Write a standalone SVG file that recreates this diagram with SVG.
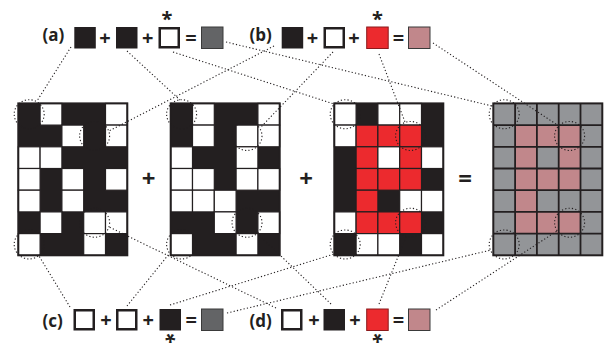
<svg xmlns="http://www.w3.org/2000/svg" width="604" height="350" viewBox="0 0 604 350">
<defs>
<style>
.bk{fill:#231f20}
.wh{fill:#fff;stroke:#231f20;stroke-width:1.2}
.rd{fill:#ec2a2e;stroke:#231f20;stroke-width:1.2}
.pk{fill:#c1878b}
.gy{fill:#939598}
.frame{fill:none;stroke:#231f20;stroke-width:2}
.gl{fill:none;stroke:#231f20;stroke-width:1.8}
.sw{fill:#fff;stroke:#231f20;stroke-width:2.5}
.sb{fill:#231f20}
.sg{fill:#636466;stroke:#3a3a3a;stroke-width:1}
.sr{fill:#ec2a2e;stroke:#8b1a1c;stroke-width:1}
.sp{fill:#c1878b;stroke:#3a3a3a;stroke-width:1}
.lab{font-family:"Open Sans","Liberation Sans",sans-serif;font-weight:700;font-size:17px;fill:#231f20}
.op{font-family:"Open Sans","Liberation Sans",sans-serif;font-weight:700;font-size:20px;fill:#231f20;text-anchor:middle}
.big{font-family:"Open Sans","Liberation Sans",sans-serif;font-weight:700;font-size:24px;fill:#231f20;text-anchor:middle}
.ast{font-family:"Open Sans","Liberation Sans",sans-serif;font-weight:700;font-size:20px;fill:#231f20;text-anchor:middle}
.dot{fill:none;stroke:#231f20;stroke-width:1.1;stroke-dasharray:1.2 2.2}
</style>
</defs>

<!-- Grid 1 -->
<g id="grid1" transform="translate(18.3,103.4)">
<rect class="bk" x="0" y="0" width="109" height="151.9"/>
<rect class="wh" x="21.8" y="0" width="21.8" height="21.7"/>
<rect class="wh" x="87.2" y="0" width="21.8" height="21.7"/>
<rect class="wh" x="43.6" y="21.7" width="21.8" height="21.7"/>
<rect class="wh" x="87.2" y="21.7" width="21.8" height="21.7"/>
<rect class="wh" x="0" y="43.4" width="21.8" height="21.7"/>
<rect class="wh" x="21.8" y="43.4" width="21.8" height="21.7"/>
<rect class="wh" x="0" y="65.1" width="21.8" height="21.7"/>
<rect class="wh" x="43.6" y="65.1" width="21.8" height="21.7"/>
<rect class="wh" x="87.2" y="65.1" width="21.8" height="21.7"/>
<rect class="wh" x="0" y="86.8" width="21.8" height="21.7"/>
<rect class="wh" x="43.6" y="86.8" width="21.8" height="21.7"/>
<rect class="wh" x="21.8" y="108.5" width="21.8" height="21.7"/>
<rect class="wh" x="65.4" y="108.5" width="21.8" height="21.7"/>
<rect class="wh" x="87.2" y="108.5" width="21.8" height="21.7"/>
<rect class="wh" x="0" y="130.2" width="21.8" height="21.7"/>
<rect class="wh" x="65.4" y="130.2" width="21.8" height="21.7"/>
<rect class="frame" x="0" y="0" width="109" height="151.9"/>
</g>

<!-- Grid 2 -->
<g id="grid2" transform="translate(170.7,103.4)">
<rect class="bk" x="0" y="0" width="109" height="151.9"/>
<rect class="wh" x="21.8" y="0" width="21.8" height="21.7"/>
<rect class="wh" x="87.2" y="0" width="21.8" height="21.7"/>
<rect class="wh" x="21.8" y="21.7" width="21.8" height="21.7"/>
<rect class="wh" x="65.4" y="21.7" width="21.8" height="21.7"/>
<rect class="wh" x="87.2" y="21.7" width="21.8" height="21.7"/>
<rect class="wh" x="0" y="43.4" width="21.8" height="21.7"/>
<rect class="wh" x="65.4" y="43.4" width="21.8" height="21.7"/>
<rect class="wh" x="0" y="65.1" width="21.8" height="21.7"/>
<rect class="wh" x="21.8" y="65.1" width="21.8" height="21.7"/>
<rect class="wh" x="65.4" y="65.1" width="21.8" height="21.7"/>
<rect class="wh" x="87.2" y="65.1" width="21.8" height="21.7"/>
<rect class="wh" x="0" y="86.8" width="21.8" height="21.7"/>
<rect class="wh" x="21.8" y="86.8" width="21.8" height="21.7"/>
<rect class="wh" x="43.6" y="86.8" width="21.8" height="21.7"/>
<rect class="wh" x="43.6" y="108.5" width="21.8" height="21.7"/>
<rect class="wh" x="87.2" y="108.5" width="21.8" height="21.7"/>
<rect class="wh" x="0" y="130.2" width="21.8" height="21.7"/>
<rect class="wh" x="65.4" y="130.2" width="21.8" height="21.7"/>
<rect class="frame" x="0" y="0" width="109" height="151.9"/>
</g>

<!-- Grid 3 -->
<g id="grid3" transform="translate(334.3,103.4)">
<rect class="bk" x="0" y="0" width="109" height="151.9"/>
<rect class="wh" x="0" y="0" width="21.8" height="21.7"/>
<rect class="wh" x="43.6" y="0" width="21.8" height="21.7"/>
<rect class="wh" x="65.4" y="0" width="21.8" height="21.7"/>
<rect class="wh" x="0" y="21.7" width="21.8" height="21.7"/>
<rect class="rd" x="21.8" y="21.7" width="21.8" height="21.7"/>
<rect class="rd" x="43.6" y="21.7" width="21.8" height="21.7"/>
<rect class="rd" x="65.4" y="21.7" width="21.8" height="21.7"/>
<rect class="rd" x="21.8" y="43.4" width="21.8" height="21.7"/>
<rect class="wh" x="43.6" y="43.4" width="21.8" height="21.7"/>
<rect class="rd" x="65.4" y="43.4" width="21.8" height="21.7"/>
<rect class="wh" x="87.2" y="43.4" width="21.8" height="21.7"/>
<rect class="rd" x="21.8" y="65.1" width="21.8" height="21.7"/>
<rect class="rd" x="43.6" y="65.1" width="21.8" height="21.7"/>
<rect class="rd" x="65.4" y="65.1" width="21.8" height="21.7"/>
<rect class="rd" x="21.8" y="86.8" width="21.8" height="21.7"/>
<rect class="wh" x="65.4" y="86.8" width="21.8" height="21.7"/>
<rect class="wh" x="87.2" y="86.8" width="21.8" height="21.7"/>
<rect class="wh" x="0" y="108.5" width="21.8" height="21.7"/>
<rect class="rd" x="21.8" y="108.5" width="21.8" height="21.7"/>
<rect class="rd" x="43.6" y="108.5" width="21.8" height="21.7"/>
<rect class="rd" x="65.4" y="108.5" width="21.8" height="21.7"/>
<rect class="wh" x="21.8" y="130.2" width="21.8" height="21.7"/>
<rect class="wh" x="43.6" y="130.2" width="21.8" height="21.7"/>
<rect class="wh" x="87.2" y="130.2" width="21.8" height="21.7"/>
<rect class="frame" x="0" y="0" width="109" height="151.9"/>
</g>

<!-- Grid 4 -->
<g id="grid4" transform="translate(493.3,103.4)">
<rect class="gy" x="0" y="0" width="109" height="151.9"/>
<rect class="pk" x="21.8" y="21.7" width="21.8" height="21.7"/>
<rect class="pk" x="43.6" y="21.7" width="21.8" height="21.7"/>
<rect class="pk" x="65.4" y="21.7" width="21.8" height="21.7"/>
<rect class="pk" x="21.8" y="43.4" width="21.8" height="21.7"/>
<rect class="pk" x="65.4" y="43.4" width="21.8" height="21.7"/>
<rect class="pk" x="21.8" y="65.1" width="21.8" height="21.7"/>
<rect class="pk" x="43.6" y="65.1" width="21.8" height="21.7"/>
<rect class="pk" x="65.4" y="65.1" width="21.8" height="21.7"/>
<rect class="pk" x="21.8" y="86.8" width="21.8" height="21.7"/>
<rect class="pk" x="21.8" y="108.5" width="21.8" height="21.7"/>
<rect class="pk" x="43.6" y="108.5" width="21.8" height="21.7"/>
<rect class="pk" x="65.4" y="108.5" width="21.8" height="21.7"/>
<path class="gl" d="M21.8 0V151.9M43.6 0V151.9M65.4 0V151.9M87.2 0V151.9M0 21.7H109M0 43.4H109M0 65.1H109M0 86.8H109M0 108.5H109M0 130.2H109"/>
<rect class="frame" x="0" y="0" width="109" height="151.9"/>
</g>

<!-- operators between grids -->
<g id="ops">
<text class="big" x="148.7" y="186.5">+</text>
<text class="big" x="306" y="186.5">+</text>
<text class="big" x="465" y="186.5">=</text>
</g>

<!-- Equation (a) -->
<g id="eq-a">
<text class="lab" x="42.5" y="41">(a)</text>
<rect class="sb" x="74.3" y="27" width="21.5" height="21.5"/>
<text class="op" x="105" y="44.8">+</text>
<rect class="sb" x="116" y="27" width="21.5" height="21.5"/>
<text class="op" x="147.8" y="44.8">+</text>
<rect class="sw" x="159.75" y="28.25" width="19" height="19"/>
<text class="ast" x="167" y="25.5">*</text>
<text class="op" x="191" y="44.8">=</text>
<rect class="sg" x="201.5" y="27" width="21.5" height="21.5"/>
</g>

<!-- Equation (b) -->
<g id="eq-b">
<text class="lab" x="249.5" y="41">(b)</text>
<rect class="sb" x="281.7" y="27" width="21.5" height="21.5"/>
<text class="op" x="312.5" y="44.8">+</text>
<rect class="sw" x="324.75" y="28.25" width="19" height="19"/>
<text class="op" x="354" y="44.8">+</text>
<rect class="sr" x="366.7" y="27" width="21.5" height="21.5"/>
<text class="ast" x="377.5" y="25.5">*</text>
<text class="op" x="398.5" y="44.8">=</text>
<rect class="sp" x="408.5" y="27" width="21.5" height="21.5"/>
</g>

<!-- Equation (c) -->
<g id="eq-c">
<text class="lab" x="42.5" y="327">(c)</text>
<rect class="sw" x="74.75" y="310.25" width="19" height="19"/>
<text class="op" x="106" y="327.3">+</text>
<rect class="sw" x="117.25" y="310.25" width="19" height="19"/>
<text class="op" x="148.3" y="327.3">+</text>
<rect class="sb" x="159.5" y="309" width="21.5" height="21.5"/>
<text class="ast" transform="rotate(180 170.3 339.5)" x="170.3" y="351">*</text>
<text class="op" x="191.3" y="327.3">=</text>
<rect class="sg" x="201.5" y="309" width="21.5" height="21.5"/>
</g>

<!-- Equation (d) -->
<g id="eq-d">
<text class="lab" x="249.5" y="327">(d)</text>
<rect class="sw" x="282.25" y="310.25" width="19" height="19"/>
<text class="op" x="314" y="327.3">+</text>
<rect class="sb" x="323.5" y="309" width="21.5" height="21.5"/>
<text class="op" x="355" y="327.3">+</text>
<rect class="sr" x="366.7" y="309" width="21.5" height="21.5"/>
<text class="ast" transform="rotate(180 377.5 339.5)" x="377.5" y="351">*</text>
<text class="op" x="398.5" y="327.3">=</text>
<rect class="sp" x="408.5" y="309" width="21.5" height="21.5"/>
</g>

<!-- connectors: dotted circles and lines -->
<g id="connectors">
<ellipse class="dot" cx="29.2" cy="114.25" rx="15" ry="14.5"/>
<ellipse class="dot" cx="181.6" cy="114.25" rx="15" ry="14.5"/>
<ellipse class="dot" cx="345.2" cy="114.25" rx="15" ry="14.5"/>
<ellipse class="dot" cx="504.2" cy="114.25" rx="15" ry="14.5"/>
<ellipse class="dot" cx="94.6" cy="135.95" rx="15" ry="14.5"/>
<ellipse class="dot" cx="247" cy="135.95" rx="15" ry="14.5"/>
<ellipse class="dot" cx="410.6" cy="135.95" rx="15" ry="14.5"/>
<ellipse class="dot" cx="569.6" cy="135.95" rx="15" ry="14.5"/>
<ellipse class="dot" cx="29.2" cy="244.45" rx="15" ry="14.5"/>
<ellipse class="dot" cx="181.6" cy="244.45" rx="15" ry="14.5"/>
<ellipse class="dot" cx="345.2" cy="244.45" rx="15" ry="14.5"/>
<ellipse class="dot" cx="504.2" cy="244.45" rx="15" ry="14.5"/>
<ellipse class="dot" cx="94.6" cy="222.75" rx="15" ry="14.5"/>
<ellipse class="dot" cx="247" cy="222.75" rx="15" ry="14.5"/>
<ellipse class="dot" cx="410.6" cy="222.75" rx="15" ry="14.5"/>
<ellipse class="dot" cx="569.6" cy="222.75" rx="15" ry="14.5"/>

<path class="dot" d="M71 47L37 101"/>
<path class="dot" d="M127 51L180 100"/>
<path class="dot" d="M173 52L334 104"/>
<path class="dot" d="M226 42L492 106"/>

<path class="dot" d="M274 46L109 131"/>
<path class="dot" d="M333 52L260 128"/>
<path class="dot" d="M379 54L405 122"/>
<path class="dot" d="M433 43L559 126"/>

<path class="dot" d="M70 307L39 256"/>
<path class="dot" d="M127 306L169 254"/>
<path class="dot" d="M170 305L334 254"/>
<path class="dot" d="M227 313L491 250"/>

<path class="dot" d="M276 308L109 227"/>
<path class="dot" d="M331 304L258 234"/>
<path class="dot" d="M379 304L406 237"/>
<path class="dot" d="M436 310L557 231"/>
</g>
</svg>
